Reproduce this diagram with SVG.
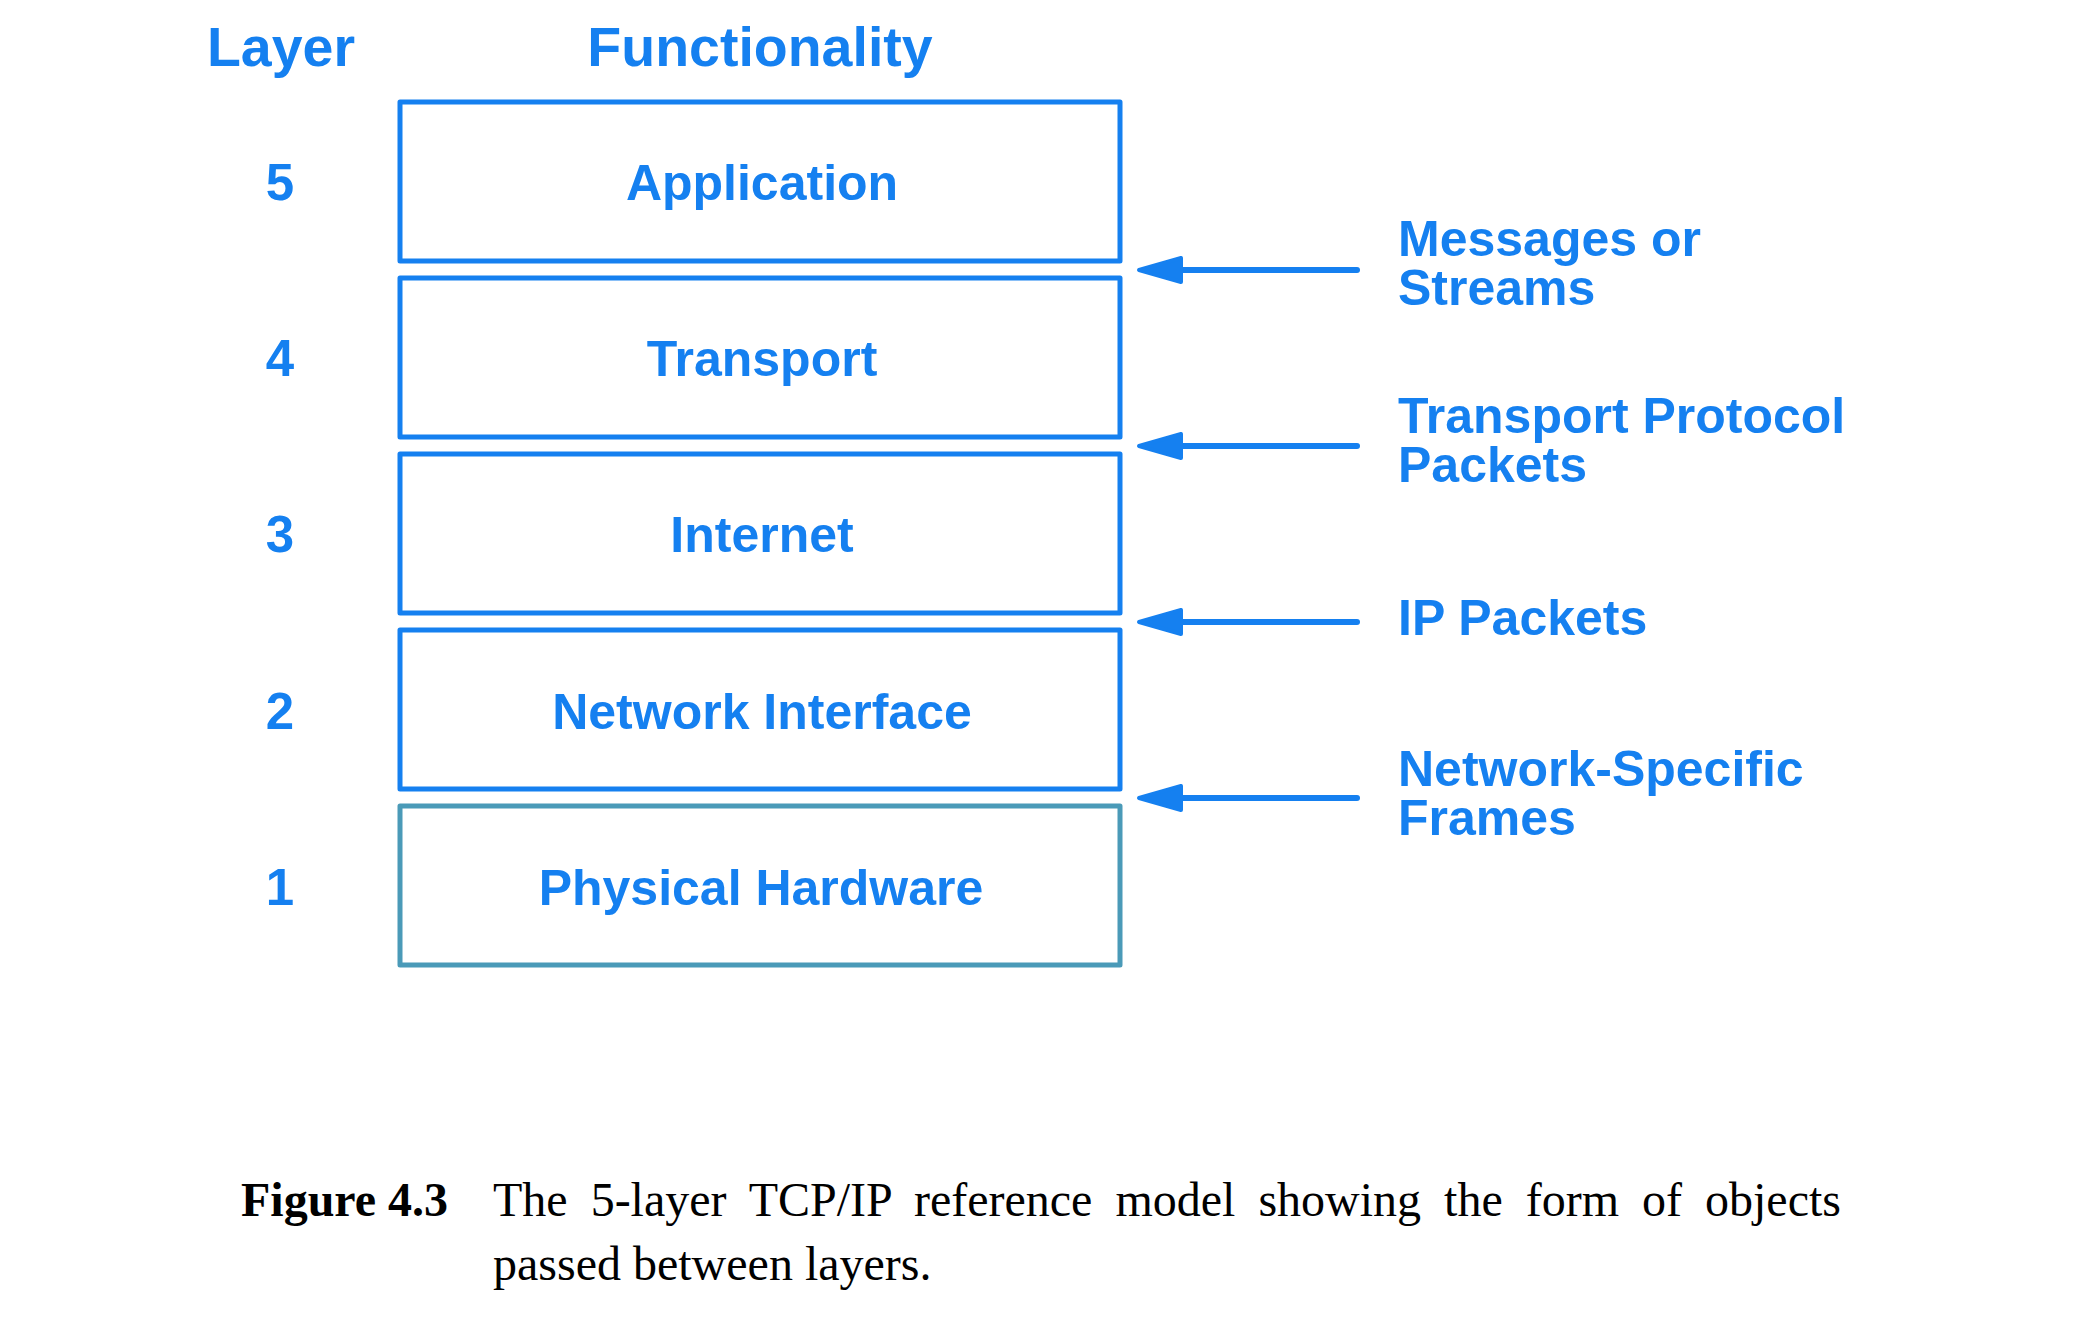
<svg xmlns="http://www.w3.org/2000/svg" width="2079" height="1332" viewBox="0 0 2079 1332">
<defs>
<style>
.box{fill:#fff;stroke:#1580f0;stroke-width:5;stroke-linejoin:round}
.box5{fill:#fff;stroke:#4a9ab8;stroke-width:5;stroke-linejoin:round}
.t{font-family:"Liberation Sans",Arial,sans-serif;font-weight:bold;fill:#1580f0}
.hd{font-size:55.5px;text-anchor:middle}
.lb{font-size:50px;text-anchor:middle}
.num{font-size:51px;text-anchor:middle}
.rl{font-size:50px}
.ln{stroke:#1580f0;stroke-width:6;stroke-linecap:round;fill:none}
.ah{fill:#1580f0;stroke:#1580f0;stroke-width:4;stroke-linejoin:round}
.cap{font-family:"Liberation Serif","Times New Roman",serif;font-size:48px;fill:#000}
</style>
</defs>
<rect width="2079" height="1332" fill="#fff"/>
<g id="headers">
<text class="t hd" x="281" y="66">Layer</text>
<text class="t hd" x="760" y="66">Functionality</text>
</g>
<g id="layer5">
<rect class="box" x="400" y="102" width="720" height="159"/>
<text class="t lb" x="762" y="200">Application</text>
<text class="t num" x="280" y="200">5</text>
</g>
<g id="layer4">
<rect class="box" x="400" y="278" width="720" height="159"/>
<text class="t lb" x="762" y="376">Transport</text>
<text class="t num" x="280" y="376">4</text>
</g>
<g id="layer3">
<rect class="box" x="400" y="454" width="720" height="159"/>
<text class="t lb" x="762" y="552">Internet</text>
<text class="t num" x="280" y="552">3</text>
</g>
<g id="layer2">
<rect class="box" x="400" y="630" width="720" height="159"/>
<text class="t lb" x="762" y="729">Network Interface</text>
<text class="t num" x="280" y="729">2</text>
</g>
<g id="layer1">
<rect class="box5" x="400" y="806" width="720" height="159"/>
<text class="t lb" x="761" y="905">Physical Hardware</text>
<text class="t num" x="280" y="905">1</text>
</g>
<g id="connectors">
<line class="ln" x1="1175" y1="270" x2="1357" y2="270"/>
<polygon class="ah" points="1139,270 1181,258 1181,282"/>
<line class="ln" x1="1175" y1="446" x2="1357" y2="446"/>
<polygon class="ah" points="1139,446 1181,434 1181,458"/>
<line class="ln" x1="1175" y1="622" x2="1357" y2="622"/>
<polygon class="ah" points="1139,622 1181,610 1181,634"/>
<line class="ln" x1="1175" y1="798" x2="1357" y2="798"/>
<polygon class="ah" points="1139,798 1181,786 1181,810"/>
</g>
<g id="labels">
<text class="t rl" x="1398" y="256">Messages or</text>
<text class="t rl" x="1398" y="305">Streams</text>
<text class="t rl" x="1398" y="433">Transport Protocol</text>
<text class="t rl" x="1398" y="482">Packets</text>
<text class="t rl" x="1398" y="635">IP Packets</text>
<text class="t rl" x="1398" y="786">Network-Specific</text>
<text class="t rl" x="1398" y="835">Frames</text>
</g>
<g id="caption">
<text class="cap" x="241" y="1216" font-weight="bold" font-size="53px">Figure 4.3</text>
<text class="cap" x="493" y="1216" word-spacing="11">The 5-layer TCP/IP reference model showing the form of objects</text>
<text class="cap" x="493" y="1280">passed between layers.</text>
</g>
</svg>
